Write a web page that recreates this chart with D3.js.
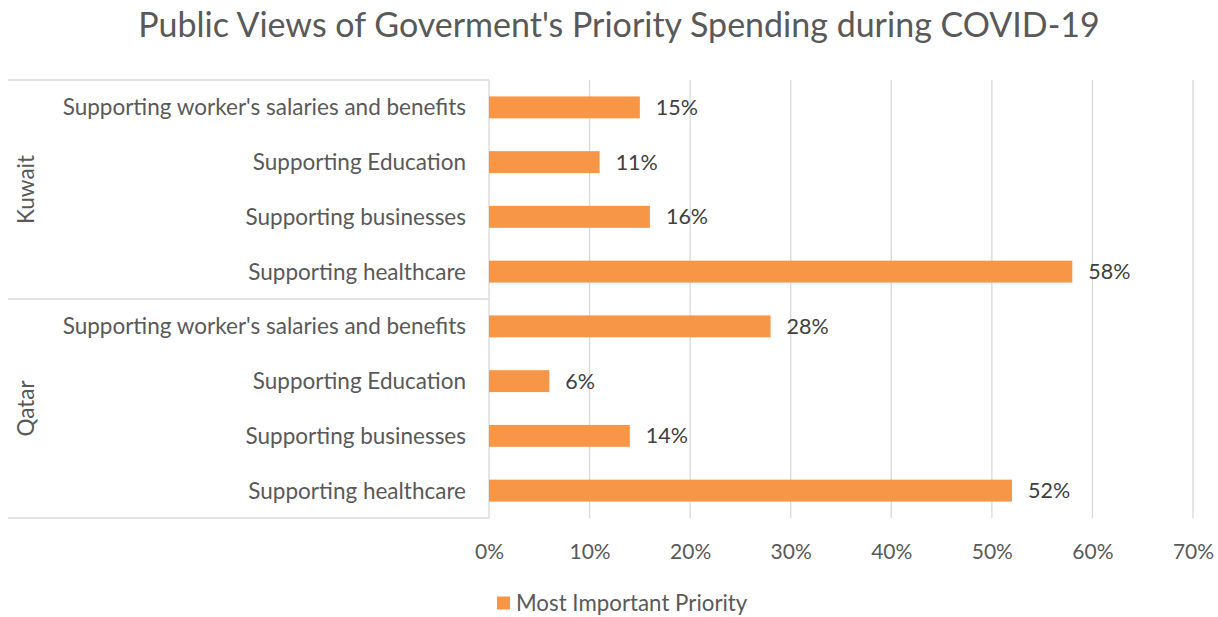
<!DOCTYPE html>
<html>
<head>
<meta charset="utf-8">
<script src="https://cdn.jsdelivr.net/npm/d3@7/dist/d3.min.js"></script>
<style>
  html, body { margin: 0; padding: 0; background: #ffffff; }
  svg text { font-family: Lato, "Open Sans", sans-serif; }
</style>
</head>
<body>
<svg id="chart" width="1218" height="617"></svg>
<script>
// Survey results: share of respondents naming each area as the top spending priority
const groups = ["Kuwait", "Qatar"];
const categories = [
  "Supporting worker's salaries and benefits",
  "Supporting Education",
  "Supporting businesses",
  "Supporting healthcare"
];
const kuwaitValues = [15, 11, 16, 58];
const qatarValues = [28, 6, 14, 52];
const tickValues = [0, 10, 20, 30, 40, 50, 60, 70];
const seriesName = "Most Important Priority";
const titleText = "Public Views of Goverment's Priority Spending during COVID-19";

const rows = [];
[kuwaitValues, qatarValues].forEach((vals, gi) => {
  categories.forEach((c, ci) => {
    rows.push({ group: groups[gi], category: c, value: vals[ci], key: groups[gi] + "|" + c });
  });
});

const svg = d3.select("#chart");
const plot = { left: 489, right: 1193, top: 80, bottom: 518 };
const outerLeft = 8;

const x = d3.scaleLinear().domain([0, 70]).range([plot.left, plot.right]);
const y = d3.scaleBand()
  .domain(rows.map(d => d.key))
  .range([plot.top, plot.bottom])
  .paddingInner(0.6)
  .paddingOuter(0.3);

const gridColor = "#d9d9d9";
const textColor = "#595959";

// Title
svg.append("text")
  .attr("x", 619).attr("y", 37)
  .attr("text-anchor", "middle")
  .attr("fill", textColor)
  .style("font-size", "34px")
  .text(titleText);

// Vertical gridlines
svg.append("g").selectAll("line")
  .data(tickValues.filter(v => v > 0))
  .join("line")
  .attr("x1", d => x(d)).attr("x2", d => x(d))
  .attr("y1", plot.top).attr("y2", plot.bottom)
  .attr("stroke", gridColor).attr("stroke-width", 1.3);

// Value axis labels
const xAxis = d3.axisBottom(x)
  .tickValues(tickValues)
  .tickFormat(d => d + "%")
  .tickSize(0)
  .tickPadding(0);
const xg = svg.append("g")
  .attr("transform", `translate(0,${plot.bottom + 41})`)
  .call(xAxis);
xg.select(".domain").remove();
xg.selectAll("text")
  .attr("fill", textColor)
  .attr("dy", 0)
  .style("font-size", "21px")
  .style("font-family", "Lato, sans-serif");

// Category axis: line and group dividers
const axisG = svg.append("g");
axisG.append("line")
  .attr("x1", plot.left).attr("x2", plot.left)
  .attr("y1", plot.top).attr("y2", plot.bottom)
  .attr("stroke", gridColor).attr("stroke-width", 1.3);

const groupBounds = groups.map(g => {
  const keys = rows.filter(r => r.group === g).map(r => r.key);
  const first = y(keys[0]) - y.step() * y.paddingInner() / 2;
  const last = y(keys[keys.length - 1]) + y.bandwidth() + y.step() * y.paddingInner() / 2;
  return { group: g, y0: Math.max(first, plot.top), y1: Math.min(last, plot.bottom) };
});
const dividers = [plot.top, ...groupBounds.slice(0, -1).map(b => b.y1), plot.bottom];
axisG.selectAll("line.div")
  .data(dividers)
  .join("line")
  .attr("class", "div")
  .attr("x1", outerLeft).attr("x2", plot.left)
  .attr("y1", d => d).attr("y2", d => d)
  .attr("stroke", gridColor).attr("stroke-width", 1.5);

// Group labels (rotated)
axisG.selectAll("text.grp")
  .data(groupBounds)
  .join("text")
  .attr("class", "grp")
  .attr("transform", d => `translate(34,${(d.y0 + d.y1) / 2}) rotate(-90)`)
  .attr("text-anchor", "middle")
  .attr("fill", textColor)
  .style("font-size", "22.5px")
  .text(d => d.group);

// Category labels
axisG.selectAll("text.cat")
  .data(rows)
  .join("text")
  .attr("class", "cat")
  .attr("x", plot.left - 23)
  .attr("y", d => y(d.key) + y.bandwidth() / 2)
  .attr("dy", "0.35em")
  .attr("text-anchor", "end")
  .attr("fill", textColor)
  .style("font-size", "22.5px")
  .text(d => d.category);

// Bars
svg.append("g").selectAll("rect")
  .data(rows)
  .join("rect")
  .attr("x", x(0))
  .attr("y", d => y(d.key))
  .attr("width", d => x(d.value) - x(0))
  .attr("height", y.bandwidth())
  .attr("fill", "#f79646");

// Data labels
svg.append("g").selectAll("text")
  .data(rows)
  .join("text")
  .attr("x", d => x(d.value) + 16)
  .attr("y", d => y(d.key) + y.bandwidth() / 2)
  .attr("dy", "0.35em")
  .attr("fill", "#404040")
  .style("font-size", "21.5px")
  .text(d => d.value + "%");

// Legend
const legend = svg.append("g").attr("transform", "translate(497,603)");
legend.append("rect")
  .attr("x", 0).attr("y", -6.5)
  .attr("width", 13).attr("height", 13)
  .attr("fill", "#f79646");
legend.append("text")
  .attr("x", 19).attr("y", 0)
  .attr("dy", "0.35em")
  .attr("fill", textColor)
  .style("font-size", "22.3px")
  .text(seriesName);
</script>
</body>
</html>
